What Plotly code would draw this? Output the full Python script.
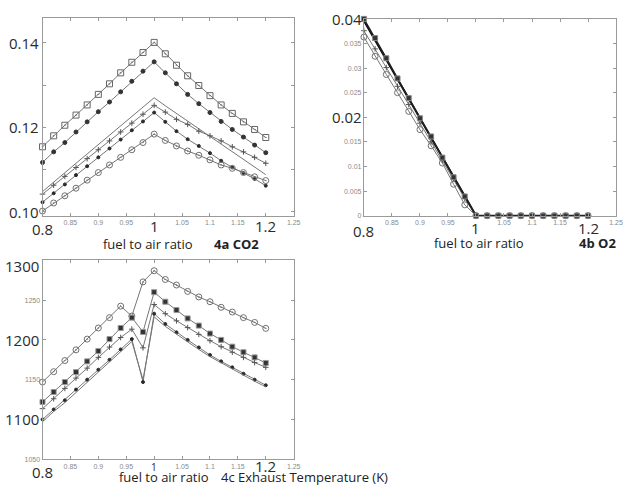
import plotly.graph_objects as go

# ---------------- data ----------------
fuel_ratio = [0.80, 0.82, 0.84, 0.86, 0.88, 0.90, 0.92, 0.94, 0.96, 0.98, 1.00,
              1.02, 1.04, 1.06, 1.08, 1.10, 1.12, 1.14, 1.16, 1.18, 1.20]

# 4a CO2
co2_a = [0.1154, 0.1180, 0.1205, 0.1229, 0.1253, 0.1278, 0.1303, 0.1329, 0.1354, 0.1377, 0.1401,
         0.1374, 0.1347, 0.1322, 0.1299, 0.1275, 0.1253, 0.1233, 0.1213, 0.1195, 0.1176]
co2_b = [0.1117, 0.1142, 0.1164, 0.1189, 0.1213, 0.1237, 0.1260, 0.1284, 0.1309, 0.1333, 0.1355,
         0.1329, 0.1303, 0.1278, 0.1256, 0.1235, 0.1214, 0.1195, 0.1177, 0.1158, 0.1140]
co2_c = [0.1048, 0.1071, 0.1093, 0.1115, 0.1137, 0.1159, 0.1181, 0.1203, 0.1226, 0.1248, 0.1270,
         0.1251, 0.1233, 0.1214, 0.1197, 0.1179, 0.1161, 0.1143, 0.1124, 0.1106, 0.1088]
co2_d = [0.1042, 0.1063, 0.1084, 0.1105, 0.1126, 0.1147, 0.1168, 0.1189, 0.1210, 0.1231, 0.1252,
         0.1236, 0.1219, 0.1207, 0.1191, 0.1180, 0.1168, 0.1154, 0.1142, 0.1129, 0.1115]
co2_e = [0.1023, 0.1044, 0.1065, 0.1087, 0.1108, 0.1129, 0.1150, 0.1171, 0.1193, 0.1214, 0.1235,
         0.1213, 0.1191, 0.1172, 0.1156, 0.1139, 0.1121, 0.1105, 0.1092, 0.1078, 0.1062]
co2_f = [0.1002, 0.1021, 0.1038, 0.1056, 0.1075, 0.1093, 0.1111, 0.1129, 0.1147, 0.1164, 0.1184,
         0.1169, 0.1156, 0.1144, 0.1134, 0.1123, 0.1111, 0.1103, 0.1093, 0.1083, 0.1074]

# 4b O2
o2_a = [0.0400, 0.0361, 0.0320, 0.0279, 0.0239, 0.0198, 0.0161, 0.0118, 0.0078, 0.0039, 0.0,
        0, 0, 0, 0, 0, 0, 0, 0, 0, 0]
o2_b = [0.0396, 0.0356, 0.0317, 0.0277, 0.0238, 0.0198, 0.0158, 0.0119, 0.0079, 0.0040, 0.0,
        0, 0, 0, 0, 0, 0, 0, 0, 0, 0]
o2_c = [0.0376, 0.0339, 0.0301, 0.0263, 0.0226, 0.0188, 0.0150, 0.0113, 0.0075, 0.0035, 0.0,
        0, 0, 0, 0, 0, 0, 0, 0, 0, 0]
o2_d = [0.0363, 0.0324, 0.0287, 0.0250, 0.0212, 0.0175, 0.0142, 0.0107, 0.0064, 0.0022, 0.0,
        0, 0, 0, 0, 0, 0, 0, 0, 0, 0]

# 4c Exhaust temperature (K)
t_a = [1147, 1160, 1174, 1187.5, 1201, 1215, 1228, 1242.5, 1230, 1273, 1287,
       1276, 1269, 1261, 1254, 1248, 1241, 1235, 1228, 1222, 1214.5]
t_b = [1122, 1134.5, 1147, 1159.5, 1173, 1186, 1201, 1215, 1228, 1210, 1260,
       1248, 1237.5, 1227, 1218, 1208, 1200, 1191.5, 1184.5, 1178, 1171]
t_c = [1113.5, 1126, 1139, 1152, 1164.5, 1178, 1191, 1203, 1213.5, 1190, 1244.5,
       1233, 1224, 1215.5, 1207, 1199, 1191.5, 1184.5, 1178, 1171.5, 1165.5]
t_d = [1100, 1112.5, 1124, 1137.5, 1150, 1162.5, 1175, 1188, 1201, 1147, 1233,
       1220, 1209.5, 1200, 1190.5, 1181, 1173, 1165.5, 1157.5, 1150, 1143]
t_e = [1097, 1110, 1121, 1134, 1147, 1159.5, 1172, 1185, 1198, 1150, 1229,
       1217, 1207, 1197, 1188, 1179, 1171, 1163, 1155.5, 1148, 1141]

small_xticks = [0.8, 0.85, 0.9, 0.95, 1.0, 1.05, 1.1, 1.15, 1.2, 1.25]
small_xtext = ["", "0.85", "0.9", "0.95", "", "1.05", "1.1", "1.15", "", "1.25"]
co2_yticks = [0.10, 0.11, 0.12, 0.13, 0.14]
co2_big = ["0.10", "0.12", "0.14"]
o2_yticks = [0, 0.005, 0.01, 0.015, 0.02, 0.025, 0.03, 0.035, 0.04]
o2_ytext = ["0", "0.005", "0.01", "0.015", "", "0.025", "0.03", "0.035", ""]
t_yticks = [1050, 1100, 1150, 1200, 1250, 1300]
t_ytext = ["1050", "", "1150", "", "1250", ""]

# ---------------- figure ----------------
W, H = 628, 489
def px(x):
    return x / W
def py(y):
    return 1 - y / H

LINE = "#767676"
DARK = "#2a2a2a"
fig = go.Figure()

def add(y, xa, ya, symbol=None, size=5, mcolor=DARK, lcolor=LINE, lwidth=1, mline=None):
    mode = "lines+markers" if symbol else "lines"
    marker = dict(symbol=symbol or "circle", size=size, color=mcolor,
                  line=dict(color=mline or mcolor, width=1))
    fig.add_trace(go.Scatter(x=fuel_ratio, y=y, xaxis=xa, yaxis=ya, mode=mode,
                             line=dict(color=lcolor, width=lwidth), marker=marker,
                             cliponaxis=False, showlegend=False, hoverinfo="skip"))

# 4a
add(co2_a, "x", "y", "square-open-dot", 6, "#666666")
add(co2_b, "x", "y", "circle", 4, "#333333")
add(co2_c, "x", "y", None)
add(co2_d, "x", "y", "cross-thin", 4, "#555555")
add(co2_e, "x", "y", "circle", 3, DARK)
add(co2_f, "x", "y", "circle-open-dot", 6, "#707070")

# 4b
add(o2_d, "x2", "y2", "circle-open", 6, "#707070")
add(o2_c, "x2", "y2", "cross-thin", 4, "#555555")
add(o2_b, "x2", "y2", None, lcolor="#111111", lwidth=2)
add(o2_a, "x2", "y2", "square", 5, "#333333", lcolor="#222222", lwidth=1.5, mline="#888888")

# 4c
add(t_a, "x3", "y3", "circle-open-dot", 6, "#707070")
add(t_b, "x3", "y3", "square", 5, "#333333", mline="#999999")
add(t_c, "x3", "y3", "cross-thin", 4, "#555555")
add(t_d, "x3", "y3", "circle", 3, DARK)
add(t_e, "x3", "y3", None)

small_font = dict(family="Liberation Sans", size=7, color="#8a8a8a")
axis_common = dict(showline=True, linecolor="#9a9a9a", linewidth=1, mirror="ticks",
                   ticks="inside", ticklen=3, tickcolor="#9a9a9a", showgrid=False,
                   zeroline=False, tickfont=small_font)

x_common = dict(axis_common, range=[0.8, 1.25], tickmode="array",
                tickvals=small_xticks, ticktext=small_xtext)

fig.update_layout(
    width=W, height=H, margin=dict(l=0, r=0, t=0, b=0),
    paper_bgcolor="white", plot_bgcolor="white",
    xaxis=dict(x_common, domain=[px(43), px(297)], anchor="y"),
    yaxis=dict(axis_common, domain=[py(217), py(18)], range=[0.0991, 0.1459],
               tickmode="array", tickvals=co2_yticks, ticktext=[""] * 5, anchor="x"),
    xaxis2=dict(x_common, domain=[px(368), px(623)], anchor="y2"),
    yaxis2=dict(axis_common, domain=[py(217), py(19)], range=[0, 0.04],
                tickmode="array", tickvals=o2_yticks, ticktext=o2_ytext, anchor="x2"),
    xaxis3=dict(x_common, domain=[px(43), px(297)], anchor="y3"),
    yaxis3=dict(axis_common, domain=[py(462), py(262)], range=[1050, 1300],
                tickmode="array", tickvals=t_yticks, ticktext=t_ytext, anchor="x3"),
)

BIG = dict(family="Open Sans", size=15, color="#2b2b2b")
LBL = dict(family="Open Sans", size=13, color="#222222")
ann = []

# big y labels
for v, t in zip([0.10, 0.12, 0.14], co2_big):
    ann.append(dict(x=px(40), xref="paper", y=v, yref="y", text=t, showarrow=False,
                    xanchor="right", yanchor="middle", font=BIG, borderpad=0))
for v, t in [(0.04, "0.04"), (0.02, "0.02")]:
    ann.append(dict(x=px(367), xref="paper", y=v, yref="y2", text=t, showarrow=False,
                    xanchor="right", yanchor="middle", font=BIG, borderpad=0))
for v, t, sh in [(1300, "1300", -6), (1200, "1200", 0), (1100, "1100", 0)]:
    ann.append(dict(x=px(40), xref="paper", y=v, yref="y3", text=t, showarrow=False,
                    xanchor="right", yanchor="middle", font=BIG, yshift=sh, borderpad=0))

# big x labels
for xa, ypix in [("x", 230), ("x2", 232)]:
    for v, t in [(0.8, "0.8"), (1.0, "1"), (1.2, "1.2")]:
        ann.append(dict(x=v, xref=xa, y=py(ypix if v == 0.8 else ypix - 3), yref="paper",
                        text=t, showarrow=False, xanchor="center", yanchor="middle",
                        font=BIG, borderpad=0))
ann.append(dict(x=0.8, xref="x3", y=py(475), yref="paper", text="0.8", showarrow=False,
                xanchor="center", yanchor="middle", font=BIG, borderpad=0))
ann.append(dict(x=1.0, xref="x3", y=py(470), yref="paper", text="1", showarrow=False,
                xanchor="center", yanchor="middle", borderpad=0,
                font=dict(family="Open Sans", size=10, color="#2b2b2b")))
ann.append(dict(x=1.2, xref="x3", y=py(469), yref="paper", text="1.2", showarrow=False,
                xanchor="center", yanchor="middle", font=BIG, borderpad=0))

# axis titles / panel labels
ann += [
    dict(x=px(150), y=py(246), text="fuel to air ratio", font=LBL),
    dict(x=px(239), y=py(246), text="<b>4a CO2</b>", font=LBL),
    dict(x=px(484), y=py(244), text="fuel to air ratio", font=LBL),
    dict(x=px(604), y=py(244), text="<b>4b O2</b>", font=LBL),
    dict(x=px(166), y=py(480), text="fuel to air ratio", font=LBL),
    dict(x=px(308), y=py(480), text="4c Exhaust Temperature (K)", font=LBL),
]
for a in ann[-6:]:
    a.update(xref="paper", yref="paper", showarrow=False, xanchor="center",
             yanchor="middle", borderpad=0)

fig.update_layout(annotations=ann)
fig.write_html("out.html", config={"displayModeBar": False},
               post_script="document.body.style.margin='0px';")
